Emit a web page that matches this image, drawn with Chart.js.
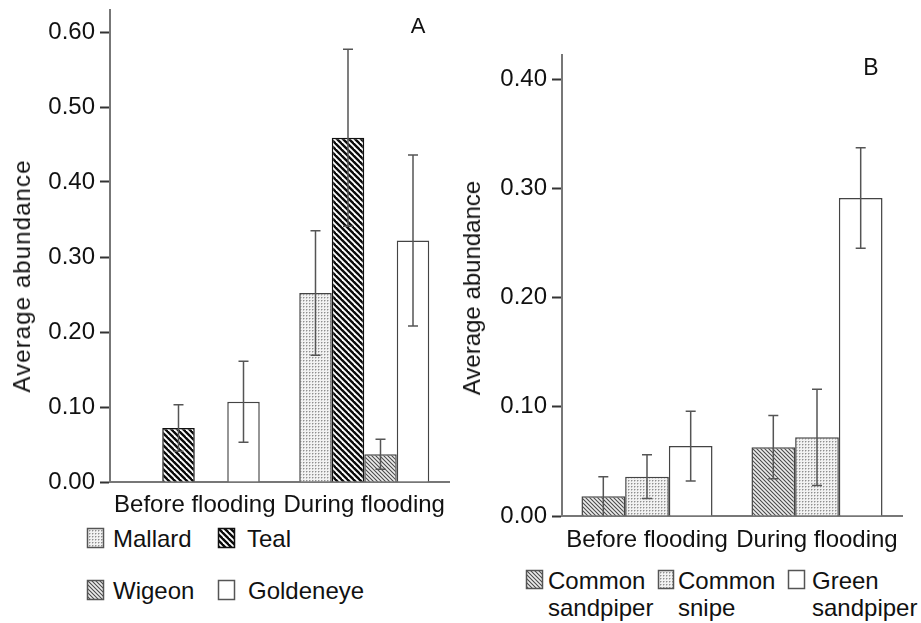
<!DOCTYPE html>
<html>
<head>
<meta charset="utf-8">
<script src="https://cdn.jsdelivr.net/npm/chart.js@4.4.1/dist/chart.umd.min.js"></script>
<style>
  body { margin: 0; background: #fff; width: 921px; height: 623px; position: relative; overflow: hidden;
         font-family: "Liberation Sans", Arial, sans-serif; color: #111; }
  canvas { position: absolute; top: 0; }
  .ytitle { position: absolute; font-size: 24px; white-space: nowrap; transform: translate(-50%, -50%) rotate(-90deg); }
  .letter { position: absolute; transform: translate(-50%, -50%); }
  .legtext { position: absolute; font-size: 24px; line-height: 27px; white-space: nowrap; }
</style>
</head>
<body>
<canvas id="chartA" width="460" height="520" style="left:0"></canvas>
<canvas id="chartB" width="461" height="560" style="left:460px"></canvas>

<div class="ytitle" style="left:22px; top:276px; letter-spacing:1.1px">Average abundance</div>
<div class="ytitle" style="left:472px; top:288px">Average abundance</div>
<div class="letter" style="left:418px; top:26px; font-size:22px">A</div>
<div class="letter" style="left:871px; top:67px; font-size:23px">B</div>

<div class="legend-a"></div>
<div class="legend-b"></div>

<script>
// panel A - ducks
const groups = ['Before flooding', 'During flooding'];
const ticksA = [0, 0.1, 0.2, 0.3, 0.4, 0.5, 0.6];
const tickLabelsA = ['0.00', '0.10', '0.20', '0.30', '0.40', '0.50', '0.60'];
const mallardA = [0, 0.252];
const mallardErrA = [0, 0.083];
const tealA = [0.072, 0.459];
const tealErrA = [0.031, 0.118];
const wigeonA = [0, 0.037];
const wigeonErrA = [0, 0.020];
const goldeneyeA = [0.107, 0.322];
const goldeneyeErrA = [0.054, 0.114];

// panel B - waders
const ticksB = [0, 0.1, 0.2, 0.3, 0.4];
const tickLabelsB = ['0.00', '0.10', '0.20', '0.30', '0.40'];
const sandpiperB = [0.018, 0.063];
const sandpiperErrB = [0.018, 0.029];
const snipeB = [0.036, 0.072];
const snipeErrB = [0.020, 0.044];
const greenB = [0.064, 0.291];
const greenErrB = [0.032, 0.046];

const fontFam = '"Liberation Sans", Arial, sans-serif';

function makePattern(kind) {
    const c = document.createElement('canvas');
    const g = c.getContext('2d');
    if (kind == 'dots') {
        c.width = 3; c.height = 3;
        g.fillStyle = '#f2f2f2';
        g.fillRect(0, 0, 3, 3);
        g.fillStyle = '#c6c6c6';
        g.fillRect(1, 0, 1, 1);
        g.fillRect(0, 1, 1, 1);
        g.fillStyle = '#8f8f8f';
        g.fillRect(0, 0, 1, 1);
        return g.createPattern(c, 'repeat');
    }
    if (kind == 'white') {
        return '#ffffff';
    }
    // diagonal stripes going down to the right
    const p = kind == 'bold' ? 6 : 4;
    c.width = p; c.height = p;
    g.fillStyle = kind == 'bold' ? '#ffffff' : '#ececec';
    g.fillRect(0, 0, p, p);
    g.strokeStyle = kind == 'bold' ? '#0a0a0a' : '#4a4a4a';
    g.lineWidth = kind == 'bold' ? 2.4 : 1.1;
    for (const k of [-p, 0, p]) {
        g.beginPath();
        g.moveTo(k - 1, -1);
        g.lineTo(k + p + 1, p + 1);
        g.stroke();
    }
    return g.createPattern(c, 'repeat');
}

const errorBars = {
    id: 'errorBars',
    afterDatasetsDraw(chart) {
        const ctx = chart.ctx;
        const y = chart.scales.y;
        ctx.save();
        ctx.strokeStyle = '#555';
        ctx.lineWidth = 1.5;
        chart.data.datasets.forEach((ds, i) => {
            const meta = chart.getDatasetMeta(i);
            meta.data.forEach((bar, j) => {
                const v = ds.data[j];
                const e = ds.errors[j];
                if (!e) return;
                const hi = y.getPixelForValue(v + e);
                const lowVal = Math.max(v - e, 0);
                const lo = y.getPixelForValue(lowVal);
                ctx.beginPath();
                ctx.moveTo(bar.x, hi);
                ctx.lineTo(bar.x, lo);
                ctx.moveTo(bar.x - 5, hi);
                ctx.lineTo(bar.x + 5, hi);
                if (lowVal > 0.002) {
                    ctx.moveTo(bar.x - 5, lo);
                    ctx.lineTo(bar.x + 5, lo);
                }
                ctx.stroke();
            });
        });
        ctx.restore();
    }
};

function barSet(label, data, errors, kind) {
    return {
        label: label,
        data: data,
        errors: errors,
        backgroundColor: makePattern(kind),
        borderColor: kind == 'bold' ? '#111' : '#444',
        borderWidth: 1.5,
        barPercentage: 1.0
    };
}

function makeChart(canvasId, datasets, max, ticks, tickLabels, pad, yWidth, xHeight, catPct, labelPad) {
    return new Chart(document.getElementById(canvasId), {
        type: 'bar',
        data: { labels: groups, datasets: datasets },
        plugins: [errorBars],
        options: {
            responsive: false,
            animation: false,
            devicePixelRatio: 1,
            datasets: { bar: { categoryPercentage: catPct } },
            layout: { padding: pad },
            plugins: { legend: { display: false }, tooltip: { enabled: false } },
            scales: {
                x: {
                    grid: { display: false },
                    border: { display: true, color: '#777', width: 2 },
                    ticks: { color: '#111', padding: labelPad, font: { size: 24, family: fontFam } },
                    afterFit(scale) {
                        scale.height = xHeight;
                        scale.paddingLeft = 0;
                        scale.paddingRight = 0;
                    }
                },
                y: {
                    min: 0,
                    max: max,
                    grid: { display: true, drawOnChartArea: false, drawTicks: true, tickLength: 10, tickColor: '#333', tickWidth: 2 },
                    border: { display: true, color: '#777', width: 2 },
                    ticks: {
                        autoSkip: false,
                        color: '#111',
                        padding: 5,
                        font: { size: 24, family: fontFam },
                        callback: (v, i) => tickLabels[i]
                    },
                    afterBuildTicks(scale) {
                        scale.ticks = ticks.map(v => ({ value: v }));
                    },
                    afterFit(scale) {
                        scale.width = yWidth;
                        scale.paddingTop = 0;
                        scale.paddingBottom = 0;
                    }
                }
            }
        }
    });
}

makeChart('chartA', [
    barSet('Mallard', mallardA, mallardErrA, 'dots'),
    barSet('Teal', tealA, tealErrA, 'bold'),
    barSet('Wigeon', wigeonA, wigeonErrA, 'fine'),
    barSet('Goldeneye', goldeneyeA, goldeneyeErrA, 'white')
], 0.63, ticksA, tickLabelsA, { left: 0, right: 11, top: 9.5, bottom: 0 }, 110, 38, 0.767, 1);

makeChart('chartB', [
    barSet('Common sandpiper', sandpiperB, sandpiperErrB, 'fine'),
    barSet('Common snipe', snipeB, snipeErrB, 'dots'),
    barSet('Green sandpiper', greenB, greenErrB, 'white')
], 0.422, ticksB, tickLabelsB, { left: 0, right: 19, top: 55, bottom: 0 }, 102, 44, 0.771, 2);

// legends, drawn as html text with small pattern swatches
function addLegendItem(text, kind, sx, sy, sw, sh, tx, ty) {
    const sw_ = document.createElement('canvas');
    sw_.width = sw + 2;
    sw_.height = sh + 2;
    sw_.style.left = (sx - 1) + 'px';
    sw_.style.top = (sy - 1) + 'px';
    const g = sw_.getContext('2d');
    g.fillStyle = makePattern(kind);
    g.fillRect(1, 1, sw, sh);
    g.strokeStyle = kind == 'bold' ? '#111' : '#555';
    g.lineWidth = 1.5;
    g.strokeRect(1.5, 1.5, sw - 1, sh - 1);
    document.body.appendChild(sw_);
    const t = document.createElement('div');
    t.className = 'legtext';
    t.style.left = tx + 'px';
    t.style.top = ty + 'px';
    t.innerHTML = text;
    document.body.appendChild(t);
}

addLegendItem('Mallard', 'dots', 87, 528, 17, 20, 113, 524.5);
addLegendItem('Teal', 'bold', 218, 528, 17, 20, 247, 524.5);
addLegendItem('Wigeon', 'fine', 87, 580, 17, 20, 113, 576.5);
addLegendItem('Goldeneye', 'white', 218, 580, 17, 20, 248, 576.5);

addLegendItem('Common<br>sandpiper', 'fine', 526, 570, 17, 19, 548, 566.5);
addLegendItem('Common<br>snipe', 'dots', 658, 570, 16, 19, 678, 566.5);
addLegendItem('Green<br>sandpiper', 'white', 788, 570, 17, 19, 812, 566.5);
</script>
</body>
</html>
